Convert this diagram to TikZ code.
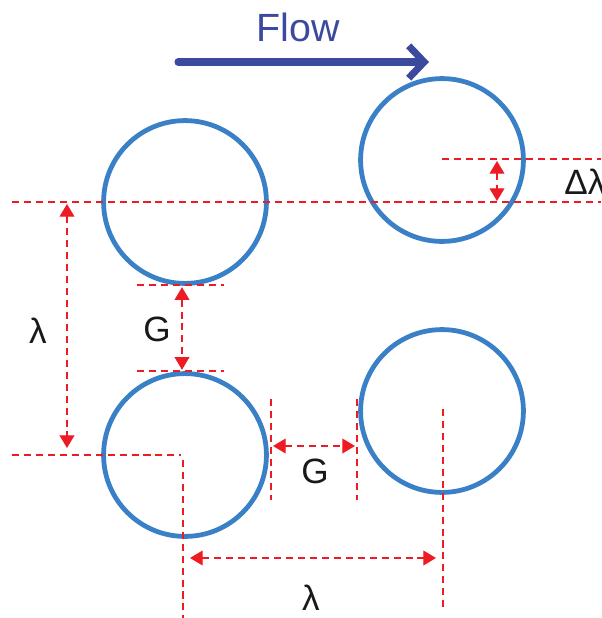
\documentclass[tikz,border=0pt]{standalone}
\usepackage{fontspec}
\setmainfont{Liberation Sans}
\usepackage{tikz}
\usetikzlibrary{positioning, arrows.meta}

\definecolor{pinblue}{RGB}{58,128,198}
\definecolor{flowblue}{RGB}{60,74,158}
\definecolor{dimred}{RGB}{237,28,36}

\begin{document}
\begin{tikzpicture}[
  x=0.025cm, y=-0.025cm,
  pin/.style={circle, draw=pinblue, line width=3.4pt, minimum size=4.07cm, inner sep=0pt},
  dim/.style={draw=dimred, line width=0.9pt, dash pattern=on 5pt off 3.5pt},
  darr/.style={dim, {Triangle[length=9pt, width=10.5pt]}-{Triangle[length=9pt, width=10.5pt]}},
  lbl/.style={font=\fontsize{25}{25}\selectfont, text=black!90, inner sep=0pt},
  flow/.style={-{Straight Barb[length=11pt, width=23pt]}, line width=5pt, line cap=round, draw=flowblue}
]
\useasboundingbox (0,0) rectangle (601,618);
\clip (0,0) rectangle (601,618);

% --- Pins ---
\node[pin] (c1) at (185,202) {};
\node[pin] (c2) at (442,160) {};
\node[pin] (c3) at (185,455) {};
\node[pin] (c4) at (442,411) {};

% --- Flow arrow ---
\node[font=\fontsize{28}{28}\selectfont, text=flowblue] (flow) at (298,27) {Flow};
\coordinate (f0) at (178,62);
\coordinate (f1) at (429,62);
\draw[flow] (f0) -- (f1);

% --- Stagger: Delta lambda ---
\coordinate (h0) at (12,202);
\coordinate (h1) at (601,202);
\coordinate (s0) at (442,159);
\coordinate (s1) at (601,159);
\draw[dim] (h0) -- (h1);
\draw[dim] (s0) -- (s1);
\coordinate (d0) at (497,161);
\coordinate (d1) at (497,201);
\draw[darr] (d0) -- (d1);
\node[lbl] (dl) at (585,182) {Δλ};

% --- Vertical gap G ---
\coordinate (t0) at (137,285);
\coordinate (t1) at (224,285);
\coordinate (b0) at (137,371);
\coordinate (b1) at (224,371);
\draw[dim] (t0) -- (t1);
\draw[dim] (b0) -- (b1);
\draw[darr] ([yshift=-1pt]c1.south -| 182,0) -- ([yshift=1pt]c3.north -| 182,0);
\node[lbl] (gv) at (157,329) {G};

% --- Vertical pitch lambda ---
\coordinate (l0) at (67,204);
\coordinate (l1) at (67,448);
\draw[darr] (l0) -- (l1);
\node[lbl] (lv) at (38,331) {λ};
\coordinate (m0) at (12,455);
\coordinate (m1) at (181,455);
\coordinate (v0) at (183,460);
\coordinate (v1) at (183,618);
\draw[dim] (m0) -- (m1);
\draw[dim] (v0) -- (v1);

% --- Horizontal gap G ---
\coordinate (e0) at (271,399);
\coordinate (e1) at (271,500);
\coordinate (w0) at (357,399);
\coordinate (w1) at (357,500);
\draw[dim] (e0) -- (e1);
\draw[dim] (w0) -- (w1);
\coordinate (g0) at (273,446);
\coordinate (g1) at (355,446);
\draw[darr] (g0) -- (g1);
\node[lbl] (gh) at (315,471) {G};

% --- Horizontal pitch lambda ---
\coordinate (r0) at (443,409);
\coordinate (r1) at (443,608);
\draw[dim] (r0) -- (r1);
\coordinate (p0) at (190,558);
\coordinate (p1) at (436,558);
\draw[darr] (p0) -- (p1);
\node[lbl] (lh) at (311,598) {λ};
\end{tikzpicture}
\end{document}
